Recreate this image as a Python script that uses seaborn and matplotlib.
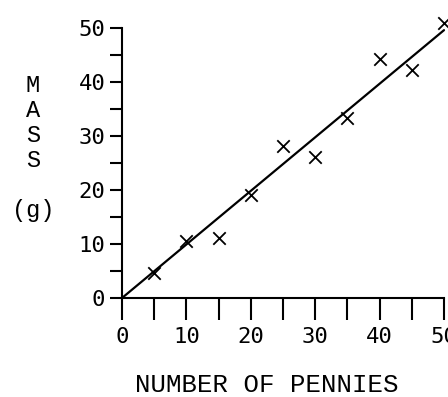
import matplotlib
matplotlib.use("Agg")
import matplotlib.pyplot as plt
from matplotlib import font_manager
from matplotlib.ticker import MultipleLocator
import seaborn as sns
import pandas as pd

# data
pennies = [5, 10, 15, 20, 25, 30, 35, 40, 45, 50]
mass = [4.6, 10.6, 11.1, 19.1, 28.1, 26.1, 33.3, 44.3, 42.2, 50.9]
fit_x = [0, 50]
fit_y = [0, 49.6]
x_ticks = [0, 10, 20, 30, 40, 50]
y_ticks = [0, 10, 20, 30, 40, 50]

sns.set_style("ticks")
plt.rcParams['font.family'] = ['DejaVu Sans Mono', 'DejaVu Sans']

# typewriter-like face for the axis titles
mono_names = sorted({f.name for f in font_manager.fontManager.ttflist if "Mono" in f.name})
serif_mono = "Liberation Mono" if "Liberation Mono" in mono_names else "DejaVu Sans Mono"

df = pd.DataFrame({"pennies": pennies, "mass": mass})
fit = pd.DataFrame({"x": fit_x, "y": fit_y})

fig = plt.figure(figsize=(4.48, 3.97), dpi=100)
ax = fig.add_axes([122 / 448, 1 - 298 / 397, 322 / 448, 270 / 397])

sns.lineplot(data=fit, x="x", y="y", ax=ax, color="black", linewidth=1.6)
sns.scatterplot(data=df, x="pennies", y="mass", ax=ax, marker="x",
                color="black", s=80, linewidth=1.3, zorder=3)
for c in ax.collections:
    c.set_clip_on(False)
for l in ax.lines:
    l.set_clip_on(False)

ax.set_xlim(0, 50)
ax.set_ylim(0, 50)
ax.set_xticks(x_ticks)
ax.set_yticks(y_ticks)
ax.xaxis.set_minor_locator(MultipleLocator(5))
ax.yaxis.set_minor_locator(MultipleLocator(5))

sns.despine(ax=ax)
for side in ["left", "bottom"]:
    ax.spines[side].set_linewidth(1.5)
    ax.spines[side].set_color("black")

ax.tick_params(axis="x", which="both", length=16, width=1.5, direction="out",
               pad=5, labelsize=16, colors="black")
ax.tick_params(axis="y", which="both", length=8.6, width=1.5, direction="out",
               pad=3.5, labelsize=16, colors="black")

ax.set_xlabel("")
ax.set_ylabel("")

fig.text(267 / 448, 1 - 385 / 397, "NUMBER OF PENNIES", ha="center", va="center",
         family=serif_mono, fontsize=18.5, color="black")
fig.text(33 / 448, 1 - 148 / 397, "M\nA\nS\nS\n\n(g)", ha="center", va="center",
         family=serif_mono, fontsize=17, linespacing=1.12,
         color="black")

fig.savefig("out.png", dpi=100)
